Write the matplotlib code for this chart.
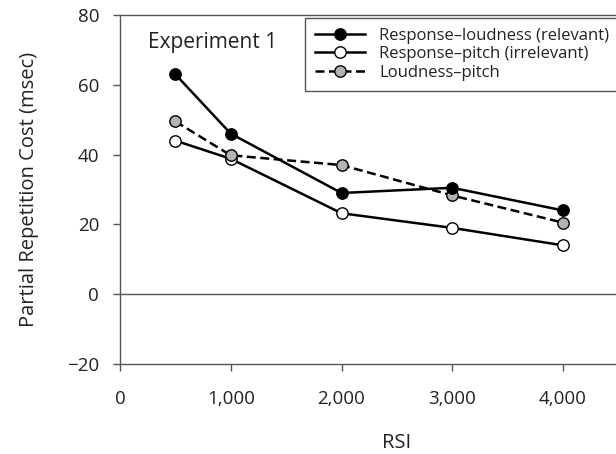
"""Partial repetition cost by RSI, Experiment 1."""
import matplotlib
matplotlib.use("Agg")
import matplotlib.pyplot as plt
from matplotlib.ticker import FuncFormatter

rsi = [500, 1000, 2000, 3000, 4000]
resp_loud = [63.0, 46.0, 29.0, 30.5, 24.0]
resp_pitch = [44.0, 38.8, 23.2, 19.0, 14.0]
loud_pitch = [49.5, 39.8, 37.0, 28.3, 20.5]

labels = ["Response\u2013loudness (relevant)",
          "Response\u2013pitch (irrelevant)",
          "Loudness\u2013pitch"]

plt.rcParams.update({
    "font.family": ["Open Sans", "DejaVu Sans"],
    "axes.unicode_minus": True,
})

fig = plt.figure(figsize=(6.16, 4.54), dpi=100)
ax = fig.add_axes([120 / 616, 90 / 454, 553.75 / 616, 349 / 454])

spine_c = "#555555"
text_c = "#222222"
ax.axhline(0, color=spine_c, lw=1.0, zorder=1)

mk = dict(marker="o", markersize=8.2, markeredgecolor="black", markeredgewidth=1.0)
h2, = ax.plot(rsi, resp_pitch, color="black", lw=1.8, markerfacecolor="white", zorder=3, **mk)
h3, = ax.plot(rsi, loud_pitch, color="black", lw=1.8, dashes=(3.6, 1.8),
              markerfacecolor="#b3b3b3", zorder=4, **mk)
h1, = ax.plot(rsi, resp_loud, color="black", lw=1.8, markerfacecolor="black", zorder=5, **mk)

ax.set_xlim(0, 5000)
ax.set_ylim(-20, 80)
ax.set_xticks([0, 1000, 2000, 3000, 4000])
ax.set_yticks([-20, 0, 20, 40, 60, 80])
ax.xaxis.set_major_formatter(FuncFormatter(lambda v, p: f"{int(v):,}"))

ax.spines["right"].set_visible(False)
for side in ("left", "bottom", "top"):
    ax.spines[side].set_color(spine_c)
    ax.spines[side].set_linewidth(1.0)

ax.tick_params(axis="y", direction="out", length=5, width=1, color=spine_c,
               labelsize=13.5, pad=10, labelcolor=text_c)
ax.tick_params(axis="x", direction="out", length=5, width=1, color=spine_c,
               labelsize=13.5, pad=14, labelcolor=text_c)

ax.set_ylabel("Partial Repetition Cost (msec)", fontsize=14.5, color=text_c, labelpad=20)
ax.set_xlabel("RSI", fontsize=14.5, color=text_c, labelpad=18)

ax.text(250, 70.5, "Experiment 1", fontsize=15, color=text_c, va="baseline", ha="left")

x0 = (305 - 120) / 553.75
leg = ax.legend([h1, h2, h3], labels, loc="upper left", mode="expand",
                bbox_to_anchor=(x0, (364 - 18) / 349, 1.0 - x0, 0),
                borderaxespad=0, frameon=True, fancybox=False, fontsize=12,
                handlelength=3.0, handletextpad=0.85, labelspacing=0.14,
                borderpad=0.6, edgecolor=spine_c, framealpha=1)
leg.get_frame().set_linewidth(1.0)
for t in leg.get_texts():
    t.set_color(text_c)

fig.savefig("out.png", dpi=100)
